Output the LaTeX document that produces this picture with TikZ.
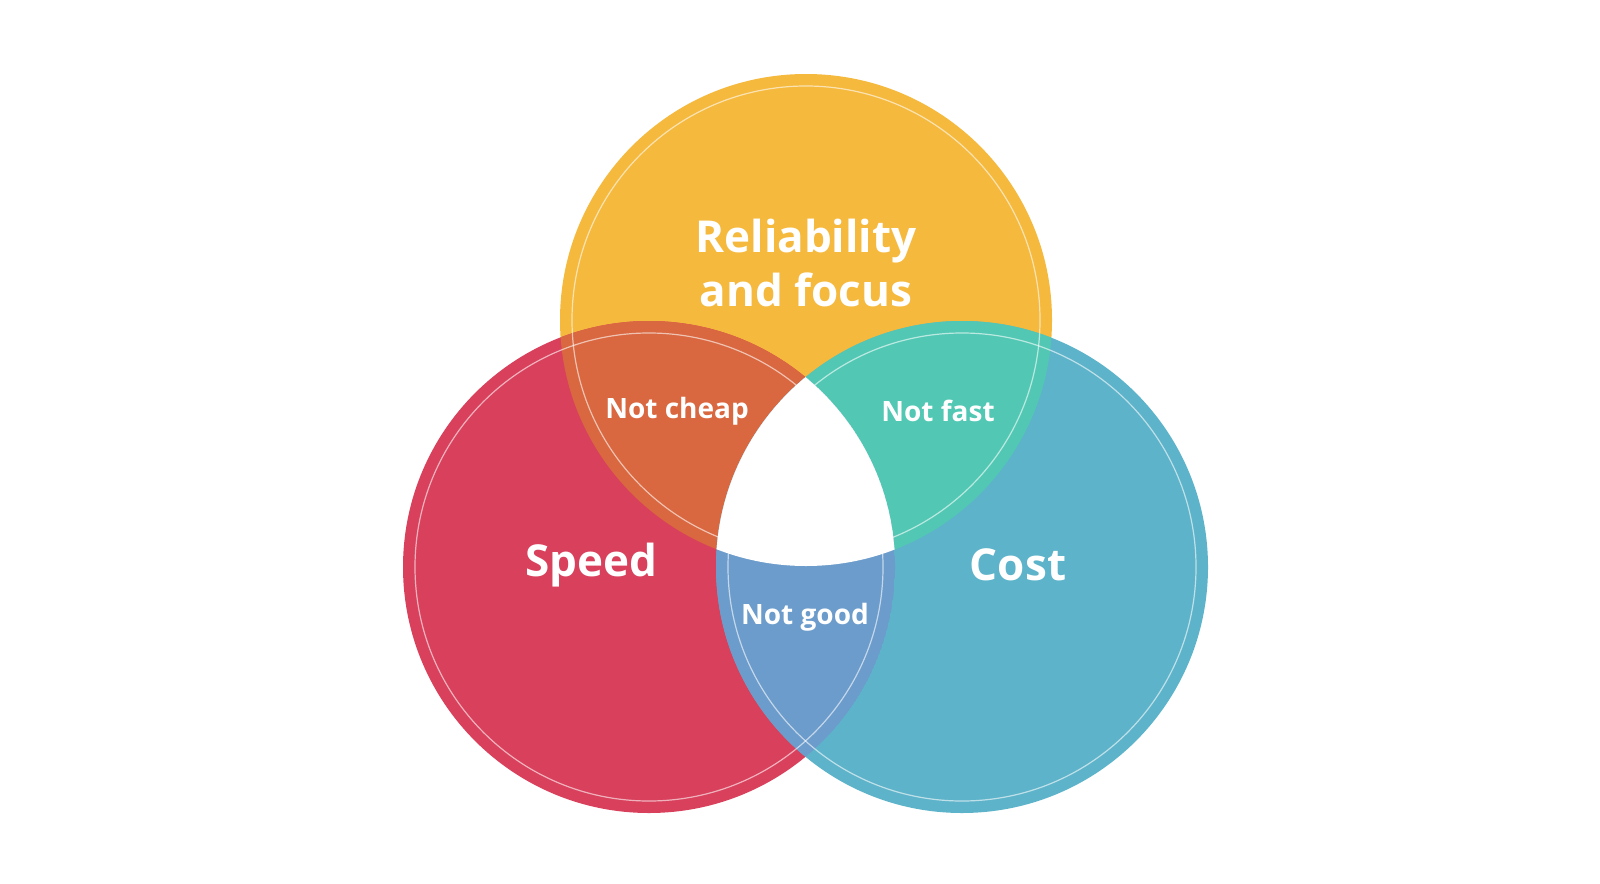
\documentclass[tikz,border=0pt]{standalone}
\usepackage{fontspec}
\setmainfont{Open Sans}
\definecolor{cy}{HTML}{F5B93E}
\definecolor{cr}{HTML}{D8405C}
\definecolor{cb}{HTML}{5DB3C9}
\definecolor{cyr}{HTML}{D9673F}
\definecolor{cyb}{HTML}{52C8B4}
\definecolor{crb}{HTML}{6C9CCB}
\begin{document}
\begin{tikzpicture}[x=0.5pt,y=-0.5pt,
  big/.style={text=white,font=\fontsize{22}{27}\selectfont\bfseries,align=center},
  small/.style={text=white,font=\fontsize{14}{16}\selectfont\bfseries},
  ring/.style={draw=white,draw opacity=0.6,line width=0.6pt}]
\useasboundingbox (0,0) rectangle (1600,883);
\def\R{246}
\coordinate (Y) at (806,320);
\coordinate (L) at (649,567);
\coordinate (B) at (962,567);
\fill[cy] (Y) circle (\R);
\fill[cr] (L) circle (\R);
\fill[cb] (B) circle (\R);
\begin{scope}\clip (Y) circle (\R); \fill[cyr] (L) circle (\R); \fill[cyb] (B) circle (\R);
  \clip (L) circle (\R); \fill[white] (B) circle (\R);\end{scope}
\begin{scope}\clip (L) circle (\R); \clip (B) circle (\R); \fill[crb] (L) circle (\R);
  \clip (Y) circle (\R); \fill[white] (B) circle (\R);\end{scope}
\draw[ring] (Y) circle (234);
\draw[ring] (L) circle (234);
\draw[ring] (B) circle (234);
\node[big] (t) at (806,263) {Reliability\\and focus};
\node[big] (s) at (591,565) {Speed};
\node[big] (c) at (1018,565) {Cost};
\node[small] (nc) at (677,411) {Not cheap};
\node[small] (nf) at (938,411) {Not fast};
\node[small] (ng) at (805,617) {Not good};
\end{tikzpicture}
\end{document}
